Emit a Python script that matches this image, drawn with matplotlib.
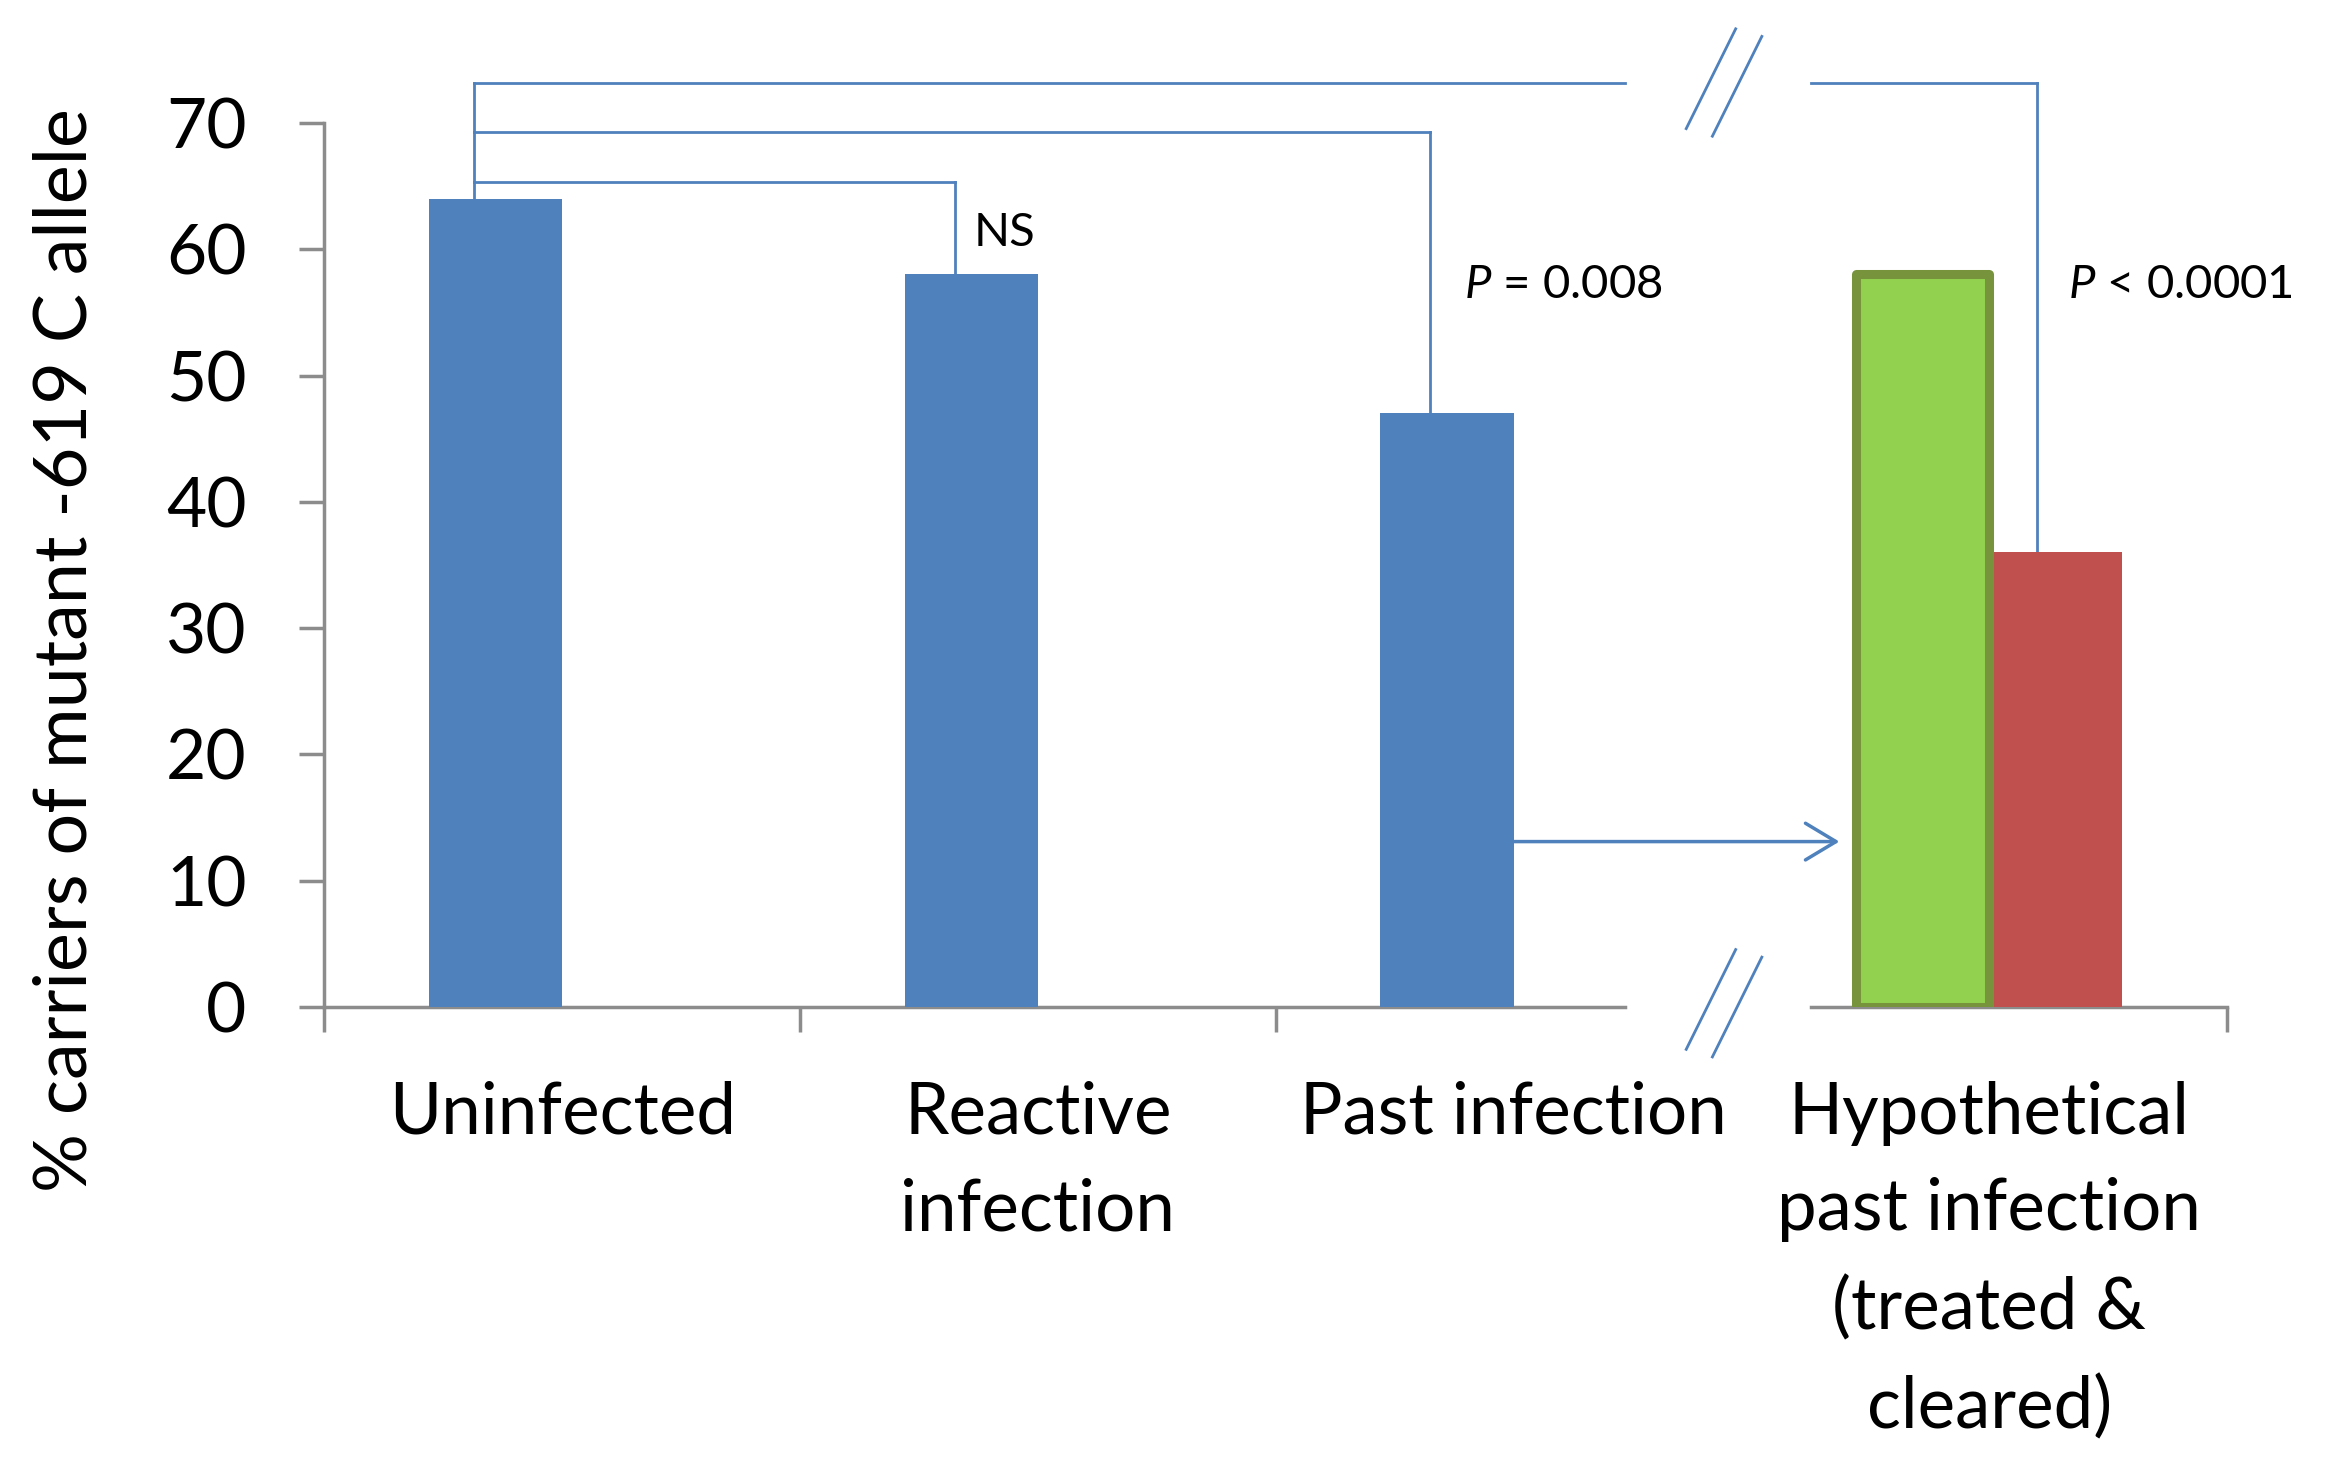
import numpy as np
import matplotlib.pyplot as plt
from matplotlib.ticker import FixedLocator

plt.rcParams['font.family'] = ['Lato', 'DejaVu Sans']
plt.rcParams['mathtext.fontset'] = 'custom'
plt.rcParams['mathtext.rm'] = 'Lato'
plt.rcParams['mathtext.it'] = 'Lato:italic'

# data
categories = ['Uninfected', 'Reactive\ninfection', 'Past infection',
              'Hypothetical\npast infection\n(treated &\ncleared)']
observed = [64, 58, 47, 58]        # first bar of each group
hypothetical = [0, 0, 0, 36]       # second bar (only in last group)
bar_colors = ['#4F81BD', '#4F81BD', '#4F81BD', '#92D050']
yticks = [0, 10, 20, 30, 40, 50, 60, 70]
ylabel = '% carriers of mutant -619 C allele'

# comparisons: target group, series, bracket height, label
comp_targets = [1, 2, 3]
comp_series = [0, 0, 1]
comp_heights = [65.3, 69.3, 73.2]
comp_labels = ['NS', r'$P$ = 0.008', r'$P$ < 0.0001']
label_pos = [(0.865, 61.3), (1.895, 57.2), (3.165, 57.2)]
arrow_y = 13.1

BLUE = '#4F81BD'
AXC = '#8C8C8C'
width = 0.28
brk_lo, brk_hi = 2.234, 2.625

fig = plt.figure(figsize=(23.33, 14.74), dpi=100)
ax = fig.add_axes([0.139, 0.3168, 0.8156, 0.5998])

x = np.arange(len(categories))
bars1 = ax.bar(x - width / 2, observed, width, color=bar_colors, zorder=3)
bars1[3].set_edgecolor('#77933C')
bars1[3].set_linewidth(6.5)
bars1[3].set_joinstyle('round')
bars1[3].set_zorder(4)
bars2 = ax.bar(x + width / 2, hypothetical, width, color='#C0504D', zorder=3)

ax.set_xlim(-0.5, 3.5)
ax.set_ylim(0, 70)

# axes styling
for s in ['top', 'right', 'bottom']:
    ax.spines[s].set_visible(False)
ax.spines['left'].set_color(AXC)
ax.spines['left'].set_linewidth(2.5)
ax.set_yticks(yticks)
ax.tick_params(axis='y', length=18, width=2.5, color=AXC, pad=38, labelsize=50)

# broken x axis
ax.plot([-0.5, brk_lo], [0, 0], color=AXC, lw=2.5, clip_on=False, zorder=2)
ax.plot([brk_hi, 3.5], [0, 0], color=AXC, lw=2.5, clip_on=False, zorder=2)
ax.xaxis.set_major_locator(FixedLocator([-0.5, 0.5, 1.5, 3.5]))
ax.xaxis.set_major_formatter(plt.NullFormatter())
ax.set_xticks(x, categories, minor=True)
ax.tick_params(axis='x', which='major', length=18, width=2.5, color=AXC)
ax.tick_params(axis='x', which='minor', length=0, pad=53, labelsize=51)
for t in ax.xaxis.get_minorticklabels():
    t.set_linespacing(1.6)

ax.set_ylabel(ylabel, fontsize=53)
ax.yaxis.set_label_coords(-0.118, 0.404)

# comparison brackets
start_x = x[0] - width / 2 - 0.045
ax.plot([start_x, start_x], [observed[0], max(comp_heights)], color=BLUE, lw=2,
        clip_on=False, zorder=2)
for tgt, ser, h in zip(comp_targets, comp_series, comp_heights):
    if ser == 0:
        ex = x[tgt] - width / 2 - 0.035
        top = observed[tgt]
    else:
        ex = x[tgt] + width / 2 - 0.04
        top = hypothetical[tgt]
    if start_x < brk_lo < ex:
        ax.plot([start_x, brk_lo], [h, h], color=BLUE, lw=2, clip_on=False)
        ax.plot([brk_hi, ex], [h, h], color=BLUE, lw=2, clip_on=False)
    else:
        ax.plot([start_x, ex], [h, h], color=BLUE, lw=2, clip_on=False)
    ax.plot([ex, ex], [h, top], color=BLUE, lw=2, clip_on=False, zorder=2)

for (lx, ly), lab in zip(label_pos, comp_labels):
    ax.text(lx, ly, lab, fontsize=34, ha='left', va='center')

# break marks
for yc in [0.3, max(comp_heights)]:
    for xc, dy in [(2.415, 0.3), (2.47, -0.3)]:
        ax.plot([xc - 0.052, xc + 0.052], [yc + dy - 3.95, yc + dy + 3.95],
                color=BLUE, lw=2, clip_on=False)

# arrow from past infection to hypothetical group
ax.annotate('', xy=(x[3] - width - 0.035, arrow_y), xytext=(x[2], arrow_y),
            arrowprops=dict(arrowstyle='->,head_length=0.4,head_width=0.24',
                            mutation_scale=55, color=BLUE, lw=2.5,
                            shrinkA=0, shrinkB=0))

fig.savefig('out.png', dpi=100)
